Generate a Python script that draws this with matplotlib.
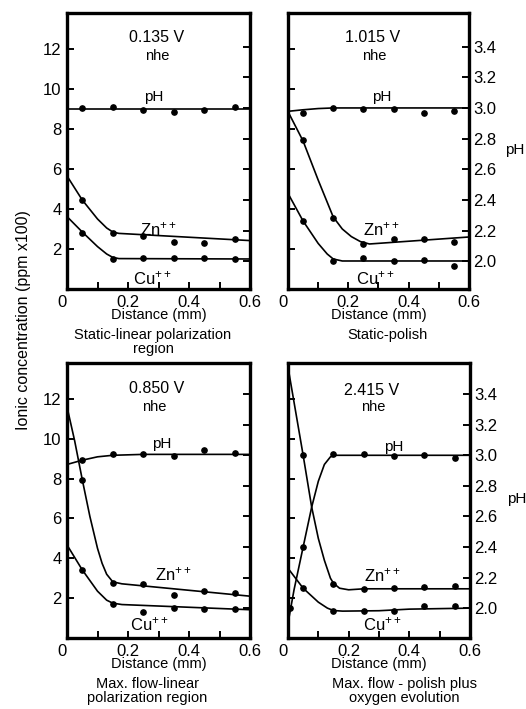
import matplotlib
matplotlib.use("Agg")
import matplotlib.pyplot as plt

plt.rcParams['font.family'] = ['Liberation Sans', 'DejaVu Sans']
plt.rcParams['mathtext.default'] = 'regular'

# sample positions (mm) shared by all four runs
X_PTS = [0.05, 0.15, 0.25, 0.35, 0.45, 0.55]

# --- 0.135 V, static, linear polarization region ---
TL_ZN_PTS = [4.45, 2.78, 2.65, 2.37, 2.32, 2.49]
TL_CU_PTS = [2.82, 1.48, 1.53, 1.53, 1.57, 1.48]
TL_PH_X = X_PTS
TL_PH_PTS = [3.0, 3.006, 2.984, 2.971, 2.984, 3.006]
TL_ZN_FIT_X = [0, 0.05, 0.10, 0.13, 0.15, 0.17, 0.6]
TL_ZN_FIT = [5.65, 4.45, 3.5, 3.05, 2.85, 2.78, 2.42]
TL_CU_FIT_X = [0, 0.05, 0.10, 0.13, 0.15, 0.17, 0.6]
TL_CU_FIT = [3.62, 2.85, 2.12, 1.75, 1.58, 1.52, 1.5]
TL_PH_FIT_X = [0, 0.6]
TL_PH_FIT = [2.995, 2.995]

# --- 1.015 V, static, polish ---
TR_ZN_PTS = [7.45, 3.57, 2.25, 2.49, 2.5, 2.34]
TR_CU_PTS = [3.4, 1.4, 1.53, 1.4, 1.43, 1.15]
TR_PH_X = X_PTS
TR_PH_PTS = [2.967, 3.0, 2.995, 2.995, 2.97, 2.977]
TR_ZN_FIT_X = [0, 0.05, 0.10, 0.15, 0.18, 0.21, 0.24, 0.27, 0.6]
TR_ZN_FIT = [8.87, 7.4, 5.45, 3.6, 3.0, 2.62, 2.37, 2.25, 2.6]
TR_CU_FIT_X = [0, 0.05, 0.10, 0.13, 0.15, 0.18, 0.6]
TR_CU_FIT = [4.78, 3.4, 2.28, 1.75, 1.5, 1.4, 1.4]
TR_PH_FIT_X = [0, 0.05, 0.10, 0.15, 0.6]
TR_PH_FIT = [2.978, 2.988, 2.996, 3.0, 3.0]

# --- 0.850 V, max. flow, linear polarization region ---
BL_ZN_PTS = [7.95, 2.78, 2.72, 2.17, 2.38, 2.25]
BL_CU_PTS = [3.42, 1.72, 1.33, 1.5, 1.47, 1.47]
BL_PH_X = X_PTS
BL_PH_PTS = [2.967, 3.007, 3.011, 2.993, 3.033, 3.018]
BL_ZN_FIT_X = [0, 0.025, 0.05, 0.075, 0.10, 0.115, 0.13, 0.15, 0.18, 0.6]
BL_ZN_FIT = [11.6, 9.9, 7.95, 6.1, 4.5, 3.75, 3.2, 2.82, 2.72, 2.1]
BL_CU_FIT_X = [0, 0.05, 0.10, 0.13, 0.15, 0.18, 0.6]
BL_CU_FIT = [4.67, 3.42, 2.35, 1.9, 1.75, 1.68, 1.42]
BL_PH_FIT_X = [0, 0.05, 0.10, 0.15, 0.25, 0.6]
BL_PH_FIT = [2.94, 2.968, 2.99, 3.0, 3.006, 3.006]

# --- 2.415 V, max. flow, polish plus oxygen evolution ---
BR_ZN_PTS = [9.17, 2.72, 2.47, 2.5, 2.58, 2.63]
BR_CU_PTS = [2.5, 1.37, 1.37, 1.37, 1.63, 1.63]
BR_PH_X = [0.005] + X_PTS
BR_PH_PTS = [2.0, 2.40, 3.006, 3.01, 2.993, 3.0, 2.985]
BR_ZN_FIT_X = [0, 0.05, 0.078, 0.10, 0.12, 0.14, 0.15, 0.17, 0.20, 0.25, 0.6]
BR_ZN_FIT = [13.6, 9.17, 6.58, 5.0, 3.9, 3.0, 2.75, 2.5, 2.42, 2.47, 2.47]
BR_CU_FIT_X = [0, 0.05, 0.10, 0.13, 0.15, 0.18, 0.3, 0.4, 0.6]
BR_CU_FIT = [3.5, 2.5, 1.8, 1.5, 1.38, 1.35, 1.37, 1.45, 1.5]
BR_PH_FIT_X = [0, 0.02, 0.05, 0.078, 0.10, 0.12, 0.14, 0.16, 0.6]
BR_PH_FIT = [1.9, 2.12, 2.4, 2.66, 2.83, 2.94, 2.99, 3.0, 3.0]

VOLTAGES = ["0.135 V", "1.015 V", "0.850 V", "2.415 V"]
CAPTIONS = ["Static-linear polarization\nregion", "Static-polish",
            "Max. flow-linear\npolarization region",
            "Max. flow - polish plus\noxygen evolution"]

CONC_TICKS = [2, 4, 6, 8, 10, 12]
PH_TICKS = [2.0, 2.2, 2.4, 2.6, 2.8, 3.0, 3.2, 3.4]
X_TICKS = [0, 0.1, 0.2, 0.3, 0.4, 0.5, 0.6]
X_TICK_LABELS = ["0", "", "0.2", "", "0.4", "", "0.6"]

panels = [
    dict(zn=TL_ZN_PTS, cu=TL_CU_PTS, phx=TL_PH_X, ph=TL_PH_PTS,
         znf=(TL_ZN_FIT_X, TL_ZN_FIT), cuf=(TL_CU_FIT_X, TL_CU_FIT), phf=(TL_PH_FIT_X, TL_PH_FIT)),
    dict(zn=TR_ZN_PTS, cu=TR_CU_PTS, phx=TR_PH_X, ph=TR_PH_PTS,
         znf=(TR_ZN_FIT_X, TR_ZN_FIT), cuf=(TR_CU_FIT_X, TR_CU_FIT), phf=(TR_PH_FIT_X, TR_PH_FIT)),
    dict(zn=BL_ZN_PTS, cu=BL_CU_PTS, phx=BL_PH_X, ph=BL_PH_PTS,
         znf=(BL_ZN_FIT_X, BL_ZN_FIT), cuf=(BL_CU_FIT_X, BL_CU_FIT), phf=(BL_PH_FIT_X, BL_PH_FIT)),
    dict(zn=BR_ZN_PTS, cu=BR_CU_PTS, phx=BR_PH_X, ph=BR_PH_PTS,
         znf=(BR_ZN_FIT_X, BR_ZN_FIT), cuf=(BR_CU_FIT_X, BR_CU_FIT), phf=(BR_PH_FIT_X, BR_PH_FIT)),
]

# layout: axes rects, pH scale, label spots (data coords) and caption x
layout = [
    dict(rect=[0.1274, 0.5924, 0.3479, 0.3893], ph_lim=(1.820, 3.619), right=False,
         volt=(0.293, 12.55), nhe=(0.295, 11.65), ph_lab=(0.285, 9.6),
         zn_lab=(0.30, 3.0), cu_lab=(0.28, 0.55), cap_x=0.47),
    dict(rect=[0.5475, 0.5924, 0.3441, 0.3893], ph_lim=(1.820, 3.619), right=True,
         volt=(0.28, 12.55), nhe=(0.287, 11.65), ph_lab=(0.31, 9.6),
         zn_lab=(0.31, 3.0), cu_lab=(0.29, 0.55), cap_x=0.55),
    dict(rect=[0.1274, 0.1001, 0.3479, 0.3879], ph_lim=(1.804, 3.604), right=False,
         volt=(0.293, 12.5), nhe=(0.287, 11.6), ph_lab=(0.31, 9.75),
         zn_lab=(0.35, 3.2), cu_lab=(0.27, 0.7), cap_x=0.44),
    dict(rect=[0.5475, 0.1001, 0.3460, 0.3879], ph_lim=(1.804, 3.604), right=True,
         volt=(0.276, 12.4), nhe=(0.28, 11.6), ph_lab=(0.35, 9.6),
         zn_lab=(0.31, 3.15), cu_lab=(0.31, 0.7), cap_x=0.64),
]

TICK_FS = 12
LW = 1.2
MS = 3.8

fig = plt.figure(figsize=(5.26, 7.09), dpi=100)

for i, (p, lay) in enumerate(zip(panels, layout)):
    ax = fig.add_axes(lay["rect"])
    ax.set_xlim(0, 0.6)
    ax.set_ylim(0, 13.8)
    ax2 = ax.twinx()
    ax2.set_ylim(*lay["ph_lim"])

    ax.plot(*p["znf"], color="black", lw=LW)
    ax.plot(*p["cuf"], color="black", lw=LW)
    ax.plot(X_PTS, p["zn"], "o", color="black", ms=MS)
    ax.plot(X_PTS, p["cu"], "o", color="black", ms=MS)
    ax2.plot(*p["phf"], color="black", lw=LW)
    ax2.plot(p["phx"], p["ph"], "o", color="black", ms=MS)

    for s in ax.spines.values():
        s.set_linewidth(2.4)
    for s in ax2.spines.values():
        s.set_visible(False)

    ax.set_xticks(X_TICKS)
    ax.set_xticklabels(X_TICK_LABELS)
    ax.set_yticks(CONC_TICKS)
    ax.tick_params(direction="in", length=5, width=1.4, labelsize=TICK_FS,
                   top=False, right=False, labelleft=not lay["right"], pad=4)
    ax.tick_params(axis="x", pad=4)
    ax.get_xticklabels()[0].set_horizontalalignment("right")

    ax2.set_yticks(PH_TICKS)
    ax2.set_yticklabels([f"{v:.1f}" for v in PH_TICKS])
    ax2.tick_params(direction="in", length=5, width=1.4, labelsize=TICK_FS,
                    labelright=lay["right"], pad=3)
    if lay["right"]:
        ax2.set_ylabel("pH", rotation=0, fontsize=11, va="center", ha="center")
        ax2.yaxis.set_label_coords(1.255, 0.505)

    ax.set_xlabel("Distance (mm)", fontsize=10.5, labelpad=-1)

    ax.text(*lay["volt"], VOLTAGES[i], fontsize=11.5, ha="center", va="center")
    ax.text(*lay["nhe"], "nhe", fontsize=10.5, ha="center", va="center")
    ax.text(*lay["ph_lab"], "pH", fontsize=11, ha="center", va="center")
    ax.text(*lay["zn_lab"], r"Zn$^{++}$", fontsize=12, ha="center", va="center")
    ax.text(*lay["cu_lab"], r"Cu$^{++}$", fontsize=12, ha="center", va="center")
    ax.text(lay["cap_x"], -0.14, CAPTIONS[i], transform=ax.transAxes,
            fontsize=10.5, ha="center", va="top", linespacing=1.0)

fig.text(0.044, 0.549, "Ionic concentration (ppm x100)", rotation=90,
         fontsize=11.5, ha="center", va="center")

fig.savefig("out.png", dpi=100, facecolor="white")
